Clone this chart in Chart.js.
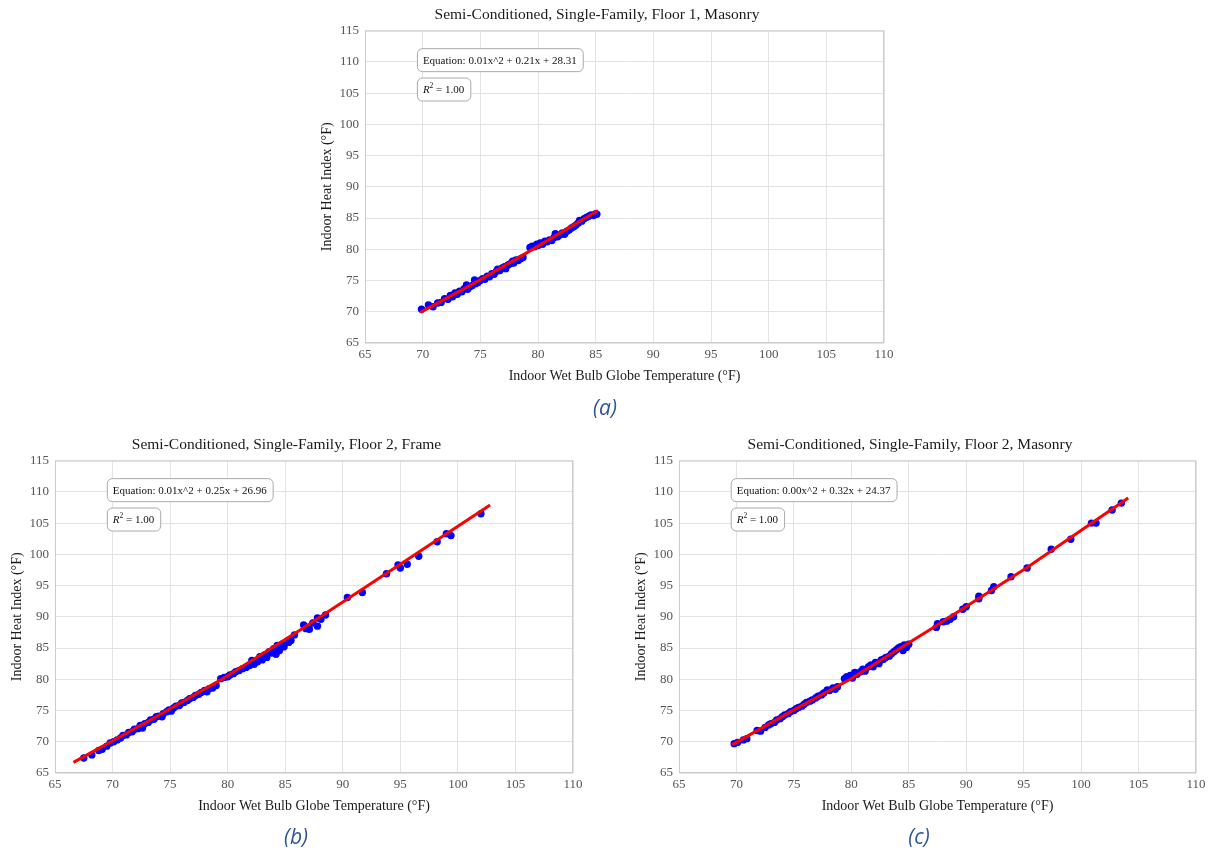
<!DOCTYPE html>
<html lang="en">
<head>
<meta charset="UTF-8">
<title>Indoor Heat Index vs Indoor WBGT</title>
<script src="https://cdn.jsdelivr.net/npm/chart.js"></script>
<style>
  body { margin: 0; background: #fff; width: 1210px; height: 852px; position: relative; overflow: hidden; }
  .panel { position: absolute; }
  .cap { position: absolute; font-family: "Open Sans", sans-serif; font-style: italic; font-size: 21px; color: #2f5597; transform: translate(-50%, -50%); }
</style>
</head>
<body>
  <div class="panel" style="left:310px;top:0;width:590px;height:395px"><canvas id="chartA"></canvas></div>
  <div class="panel" style="left:0;top:430px;width:589px;height:395px"><canvas id="chartB"></canvas></div>
  <div class="panel" style="left:624px;top:430px;width:588px;height:395px"><canvas id="chartC"></canvas></div>
  <div class="cap" style="left:605px;top:407px">(a)</div>
  <div class="cap" style="left:296px;top:836px">(b)</div>
  <div class="cap" style="left:919px;top:836px">(c)</div>

<script>
// titles and fit labels
const titles = [
  'Semi-Conditioned, Single-Family, Floor 1, Masonry',
  'Semi-Conditioned, Single-Family, Floor 2, Frame',
  'Semi-Conditioned, Single-Family, Floor 2, Masonry'
];
const equations = [
  'Equation: 0.01x^2 + 0.21x + 28.31',
  'Equation: 0.01x^2 + 0.25x + 26.96',
  'Equation: 0.00x^2 + 0.32x + 24.37'
];
const rSquared = ['1.00', '1.00', '1.00'];
const xTitle = 'Indoor Wet Bulb Globe Temperature (°F)';
const yTitle = 'Indoor Heat Index (°F)';

// (a) Floor 1, Masonry
const wbgtA = [69.9,70.5,70.9,71.3,71.6,71.9,72.2,72.4,72.6,72.8,73.0,73.2,73.4,73.6,73.8,73.9,74.1,74.3,74.5,74.6,74.8,75.0,75.2,75.4,75.6,75.8,76.0,76.2,76.4,76.5,76.7,76.9,77.1,77.2,77.4,77.6,77.8,77.9,78.1,78.3,78.5,78.7,
  79.3,79.5,79.7,79.9,80.0,80.2,80.4,80.6,80.8,81.0,81.2,81.4,81.5,81.7,81.9,82.1,82.3,82.5,82.7,82.9,83.1,83.3,83.5,83.6,83.8,84.0,84.2,84.4,84.6,84.8,85.0,85.1];
const heatA = [70.4,71.1,70.8,71.4,71.5,72.1,72.0,72.6,72.4,73.0,72.8,73.3,73.2,73.7,74.3,73.6,74.0,74.2,75.1,74.5,74.7,75.0,75.3,75.2,75.7,75.6,76.1,76.0,76.5,76.8,76.6,77.0,77.2,76.9,77.5,77.7,78.1,77.8,78.3,78.2,78.5,78.7,
  80.3,80.5,80.4,80.8,80.6,81.0,80.8,81.3,81.2,81.5,81.4,81.9,82.5,82.0,82.3,82.6,82.4,82.9,83.1,83.4,83.6,83.9,84.2,84.6,84.5,84.9,85.1,85.3,85.5,85.4,85.7,85.6];
const fitXA = [69.8, 74.4, 78.9, 82.0, 85.2];
const fitYA = [69.9, 74.5, 79.3, 82.7, 86.2];

// (b) Floor 2, Frame
const wbgtB = [67.5,68.2,68.8,69.1,69.5,69.8,70.1,70.4,70.7,70.9,71.2,71.4,71.7,71.9,72.2,72.4,72.6,72.8,73.1,73.3,73.6,73.8,74.0,74.3,74.4,74.7,74.9,75.1,75.3,75.5,75.8,76.0,76.2,76.5,76.7,77.0,77.2,77.5,77.7,78.0,78.2,78.4,78.7,79.0,
  79.4,79.7,80.0,80.2,80.5,80.7,81.0,81.3,81.6,81.9,82.1,82.3,82.6,82.8,83.0,83.2,83.4,83.6,83.8,84.0,84.2,84.3,84.5,84.7,84.9,85.3,85.5,85.8,
  86.6,86.8,87.1,87.4,87.8,87.8,88.1,88.5,90.4,91.7,93.8,94.8,95.0,95.6,96.6,98.2,99.0,99.4,102.0];
const heatB = [67.4,67.9,68.6,68.8,69.3,69.8,70.0,70.3,70.6,71.0,71.1,71.5,71.6,72.0,72.1,72.6,72.2,72.9,73.1,73.5,73.6,74.0,74.1,74.0,74.5,74.8,75.1,74.9,75.4,75.7,75.8,76.2,76.3,76.6,76.9,77.1,77.4,77.6,77.9,78.2,78.0,78.5,78.6,79.0,
  80.1,80.3,80.4,80.7,80.9,81.2,81.4,81.7,81.9,82.2,83.0,82.4,82.8,83.6,83.1,83.9,83.5,84.4,84.2,84.9,84.0,85.4,84.6,85.6,85.2,85.9,86.2,87.1,
  88.7,88.1,88.0,89.0,89.8,88.5,89.6,90.3,93.1,93.9,96.9,98.3,97.8,98.4,99.7,102.0,103.3,103.0,106.5];
const fitXB = [66.6, 73.0, 79.4, 86.3, 94.5, 102.8];
const fitYB = [66.7, 73.2, 79.9, 87.9, 97.8, 107.9];

// (c) Floor 2, Masonry
const wbgtC = [69.8,70.1,70.6,70.9,71.8,72.1,72.5,72.8,73.0,73.3,73.5,73.8,74.0,74.2,74.5,74.7,75.0,75.2,75.4,75.7,75.9,76.1,76.4,76.6,76.9,77.1,77.4,77.6,77.9,78.1,78.4,78.6,78.8,
  79.4,79.6,79.9,80.1,80.3,80.5,80.8,81.0,81.2,81.5,81.7,81.9,82.1,82.4,82.6,82.8,83.0,83.3,83.5,83.7,83.9,84.1,84.3,84.5,84.6,84.8,85.0,
  87.4,87.5,88.0,88.3,88.6,88.9,89.7,90.0,91.1,91.1,92.2,92.4,93.9,95.3,97.4,99.1,100.9,101.3,102.7,103.5];
const heatC = [69.7,69.9,70.3,70.5,71.8,71.7,72.3,72.7,72.9,73.1,73.5,73.7,74.0,74.3,74.5,74.8,75.0,75.3,75.5,75.7,76.0,76.3,76.5,76.7,77.0,77.3,77.5,77.8,78.3,78.2,78.6,78.4,78.8,
  80.1,80.4,80.6,80.2,81.1,80.8,81.2,81.6,81.3,82.0,82.3,82.0,82.7,82.5,83.1,83.2,83.5,83.7,84.1,84.4,84.7,85.0,85.2,84.6,85.5,85.1,85.6,
  88.3,88.9,89.2,89.3,89.6,90.0,91.2,91.6,92.9,93.3,94.2,94.8,96.4,97.8,100.8,102.4,105.0,105.0,107.1,108.2];
const fitXC = [69.6, 74.8, 79.9, 86.8, 95.3, 104.1];
const fitYC = [69.5, 74.9, 80.0, 87.9, 97.9, 109.0];

const serif = '"Liberation Serif", "DejaVu Serif", serif';

function pairs(xs, ys) { return xs.map((x, i) => ({ x: x, y: ys[i] })); }

// plot frame plus the two fit text boxes
const framePlugin = {
  id: 'frameAndBoxes',
  afterDraw(chart, args, opts) {
    const ctx = chart.ctx, a = chart.chartArea;
    ctx.save();
    ctx.strokeStyle = '#cccccc';
    ctx.lineWidth = 1;
    ctx.strokeRect(a.left + 0.5, a.top + 0.5, a.width - 1, a.height - 1);

    const bx = a.left + 0.1 * a.width;
    const pad = 6, h = 23;
    ctx.font = '11px ' + serif;
    ctx.textBaseline = 'middle';
    ctx.textAlign = 'left';
    ctx.strokeStyle = '#aaaaaa';

    // equation box
    let cy = a.bottom - 0.907 * a.height;
    let w = ctx.measureText(opts.eq).width + pad * 2;
    ctx.beginPath();
    ctx.roundRect(bx + 0.5, cy - h / 2 + 0.5, w, h, 5);
    ctx.fillStyle = '#ffffff';
    ctx.fill();
    ctx.stroke();
    ctx.fillStyle = '#111111';
    ctx.fillText(opts.eq, bx + pad, cy + 1);

    // R^2 box
    cy = a.bottom - 0.813 * a.height;
    ctx.font = 'italic 11px ' + serif;
    const wR = ctx.measureText('R').width;
    ctx.font = '7.5px ' + serif;
    const w2 = ctx.measureText('2').width;
    ctx.font = '11px ' + serif;
    const rest = ' = ' + opts.r2;
    const wRest = ctx.measureText(rest).width;
    w = wR + w2 + wRest + pad * 2;
    ctx.beginPath();
    ctx.roundRect(bx + 0.5, cy - h / 2 + 0.5, w, h, 5);
    ctx.fillStyle = '#ffffff';
    ctx.fill();
    ctx.stroke();
    ctx.fillStyle = '#111111';
    ctx.font = 'italic 11px ' + serif;
    ctx.fillText('R', bx + pad, cy + 1);
    ctx.font = '7.5px ' + serif;
    ctx.fillText('2', bx + pad + wR, cy - 3);
    ctx.font = '11px ' + serif;
    ctx.fillText(rest, bx + pad + wR + w2, cy + 1);
    ctx.restore();
  }
};

function makeChart(id, idx, xs, ys, fx, fy) {
  return new Chart(document.getElementById(id), {
    type: 'scatter',
    data: {
      datasets: [
        { type: 'line', data: pairs(fx, fy), borderColor: '#ff0000', borderWidth: 3, pointRadius: 0, fill: false, order: 0 },
        { data: pairs(xs, ys), backgroundColor: '#0000ff', borderColor: '#0000ff', pointRadius: 3.7, borderWidth: 0, order: 1 }
      ]
    },
    options: {
      responsive: true,
      maintainAspectRatio: false,
      animation: false,
      layout: { padding: { left: 0, right: 16, top: 0, bottom: 0 } },
      plugins: {
        legend: { display: false },
        tooltip: { enabled: false },
        title: { display: true, text: titles[idx], color: '#1a1a1a', font: { family: serif, size: 15.5, weight: 'normal' }, padding: { top: 6, bottom: 6 } },
        frameAndBoxes: { eq: equations[idx], r2: rSquared[idx] }
      },
      scales: {
        x: {
          type: 'linear', min: 65, max: 110,
          ticks: { stepSize: 5, color: '#555555', font: { family: serif, size: 13 }, padding: 4, maxRotation: 0 },
          grid: { color: '#e3e3e3', drawTicks: false },
          border: { display: false },
          title: { display: true, text: xTitle, color: '#1a1a1a', font: { family: serif, size: 14 }, padding: { top: 0, bottom: 10 } },
          afterFit: s => { s.height = 52; }
        },
        y: {
          type: 'linear', min: 65, max: 115,
          ticks: { stepSize: 5, color: '#555555', font: { family: serif, size: 13 }, padding: 6 },
          grid: { color: '#e3e3e3', drawTicks: false },
          border: { display: false },
          title: { display: true, text: yTitle, color: '#1a1a1a', font: { family: serif, size: 14 }, padding: { top: 9, bottom: 0 } },
          afterFit: s => { s.width = 55; }
        }
      }
    },
    plugins: [framePlugin]
  });
}

makeChart('chartA', 0, wbgtA, heatA, fitXA, fitYA);
makeChart('chartB', 1, wbgtB, heatB, fitXB, fitYB);
makeChart('chartC', 2, wbgtC, heatC, fitXC, fitYC);
</script>
</body>
</html>
